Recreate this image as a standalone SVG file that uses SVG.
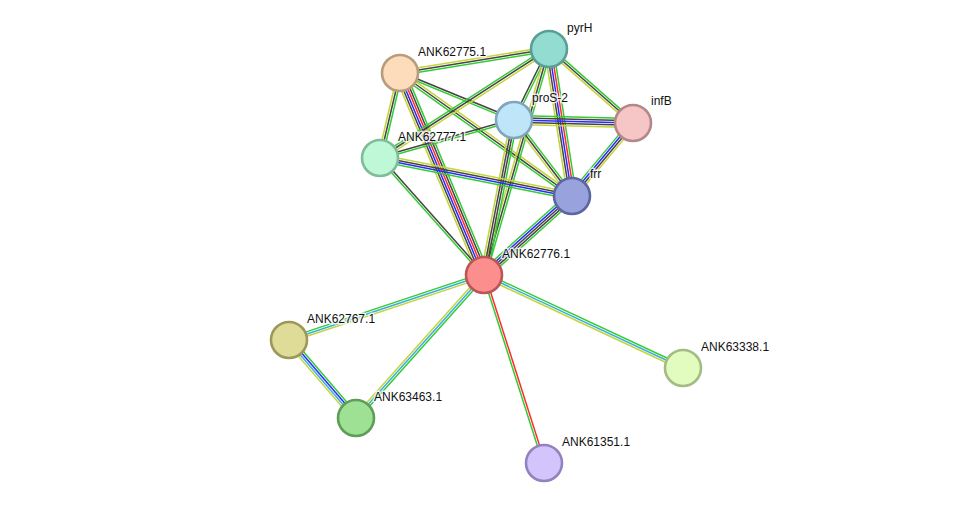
<svg xmlns="http://www.w3.org/2000/svg" width="976" height="509" viewBox="0 0 976 509">
<style>
line{stroke-width:1.5;fill:none}
.g{stroke:#33cc33}.k{stroke:#444444}.y{stroke:#c4d43a}.b{stroke:#2a2aff}.r{stroke:#ff2a2a}.c{stroke:#3aaee0}
circle{stroke-width:2.6}
text{font-family:"Liberation Sans",Arial,sans-serif;font-size:12px;fill:#111;stroke:#fff;stroke-width:3;stroke-opacity:0.8;paint-order:stroke;stroke-linejoin:round}
</style>
<rect width="976" height="509" fill="#fff"/>
<g id="edges">
<g transform="translate(400,73) rotate(-9.15)"><line x1="0" x2="150.9" y1="-2.2" y2="-2.2" class="y"/><line x1="0" x2="150.9" y1="0" y2="0" class="k"/><line x1="0" x2="150.9" y1="2.2" y2="2.2" class="g"/></g>
<g transform="translate(400,73) rotate(22.4)"><line x1="0" x2="123.3" y1="-1.1" y2="-1.1" class="k"/><line x1="0" x2="123.3" y1="1.1" y2="1.1" class="g"/></g>
<g transform="translate(400,73) rotate(35.56)"><line x1="0" x2="211.5" y1="-2.2" y2="-2.2" class="y"/><line x1="0" x2="211.5" y1="0" y2="0" class="k"/><line x1="0" x2="211.5" y1="2.2" y2="2.2" class="g"/></g>
<g transform="translate(400,73) rotate(103.24)"><line x1="0" x2="87.3" y1="-2.2" y2="-2.2" class="g"/><line x1="0" x2="87.3" y1="0" y2="0" class="k"/><line x1="0" x2="87.3" y1="2.2" y2="2.2" class="y"/></g>
<g transform="translate(400,73) rotate(67.42)"><line x1="0" x2="218.8" y1="-5.5" y2="-5.5" class="g"/><line x1="0" x2="218.8" y1="-3.3" y2="-3.3" class="k"/><line x1="0" x2="218.8" y1="-1.1" y2="-1.1" class="r"/><line x1="0" x2="218.8" y1="1.1" y2="1.1" class="b"/><line x1="0" x2="218.8" y1="3.3" y2="3.3" class="k"/><line x1="0" x2="218.8" y1="5.5" y2="5.5" class="y"/></g>
<g transform="translate(549,49) rotate(41.38)"><line x1="0" x2="111.9" y1="-2.2" y2="-2.2" class="g"/><line x1="0" x2="111.9" y1="0" y2="0" class="k"/><line x1="0" x2="111.9" y1="2.2" y2="2.2" class="y"/></g>
<g transform="translate(549,49) rotate(116.24)"><line x1="0" x2="79.2" y1="-1.1" y2="-1.1" class="g"/><line x1="0" x2="79.2" y1="1.1" y2="1.1" class="k"/></g>
<g transform="translate(549,49) rotate(147.18)"><line x1="0" x2="201.1" y1="-2.2" y2="-2.2" class="y"/><line x1="0" x2="201.1" y1="0" y2="0" class="k"/><line x1="0" x2="201.1" y1="2.2" y2="2.2" class="g"/></g>
<g transform="translate(549,49) rotate(106.05)"><line x1="0" x2="235.2" y1="-2.2" y2="-2.2" class="g"/><line x1="0" x2="235.2" y1="0" y2="0" class="k"/><line x1="0" x2="235.2" y1="2.2" y2="2.2" class="y"/></g>
<g transform="translate(549,49) rotate(81.11)"><line x1="0" x2="148.8" y1="-4.4" y2="-4.4" class="g"/><line x1="0" x2="148.8" y1="-2.2" y2="-2.2" class="r"/><line x1="0" x2="148.8" y1="0" y2="0" class="b"/><line x1="0" x2="148.8" y1="2.2" y2="2.2" class="k"/><line x1="0" x2="148.8" y1="4.4" y2="4.4" class="y"/></g>
<g transform="translate(514,120) rotate(1.44)"><line x1="0" x2="119" y1="-4.4" y2="-4.4" class="g"/><line x1="0" x2="119" y1="-2.2" y2="-2.2" class="k"/><line x1="0" x2="119" y1="0" y2="0" class="b"/><line x1="0" x2="119" y1="2.2" y2="2.2" class="k"/><line x1="0" x2="119" y1="4.4" y2="4.4" class="y"/></g>
<g transform="translate(514,120) rotate(164.17)"><line x1="0" x2="139.3" y1="-1.1" y2="-1.1" class="g"/><line x1="0" x2="139.3" y1="1.1" y2="1.1" class="k"/></g>
<g transform="translate(514,120) rotate(52.65)"><line x1="0" x2="95.6" y1="-2.2" y2="-2.2" class="g"/><line x1="0" x2="95.6" y1="0" y2="0" class="k"/><line x1="0" x2="95.6" y1="2.2" y2="2.2" class="y"/></g>
<g transform="translate(514,120) rotate(100.95)"><line x1="0" x2="157.9" y1="-3.3" y2="-3.3" class="g"/><line x1="0" x2="157.9" y1="-1.1" y2="-1.1" class="k"/><line x1="0" x2="157.9" y1="1.1" y2="1.1" class="k"/><line x1="0" x2="157.9" y1="3.3" y2="3.3" class="y"/></g>
<g transform="translate(633,123) rotate(129.88)"><line x1="0" x2="95.1" y1="-3.3" y2="-3.3" class="y"/><line x1="0" x2="95.1" y1="-1.1" y2="-1.1" class="k"/><line x1="0" x2="95.1" y1="1.1" y2="1.1" class="b"/><line x1="0" x2="95.1" y1="3.3" y2="3.3" class="g"/></g>
<g transform="translate(380,158) rotate(11.19)"><line x1="0" x2="195.7" y1="-3.3" y2="-3.3" class="y"/><line x1="0" x2="195.7" y1="-1.1" y2="-1.1" class="k"/><line x1="0" x2="195.7" y1="1.1" y2="1.1" class="b"/><line x1="0" x2="195.7" y1="3.3" y2="3.3" class="g"/></g>
<g transform="translate(380,158) rotate(48.37)"><line x1="0" x2="156.5" y1="-1.1" y2="-1.1" class="k"/><line x1="0" x2="156.5" y1="1.1" y2="1.1" class="g"/></g>
<g transform="translate(572,196) rotate(138.08)"><line x1="0" x2="118.3" y1="-4.4" y2="-4.4" class="g"/><line x1="0" x2="118.3" y1="-2.2" y2="-2.2" class="k"/><line x1="0" x2="118.3" y1="0" y2="0" class="k"/><line x1="0" x2="118.3" y1="2.2" y2="2.2" class="b"/><line x1="0" x2="118.3" y1="4.4" y2="4.4" class="g"/></g>
<g transform="translate(484,275) rotate(161.57)"><line x1="0" x2="205.5" y1="-2.2" y2="-2.2" class="y"/><line x1="0" x2="205.5" y1="0" y2="0" class="c"/><line x1="0" x2="205.5" y1="2.2" y2="2.2" class="g"/></g>
<g transform="translate(484,275) rotate(131.83)"><line x1="0" x2="191.9" y1="-2.2" y2="-2.2" class="g"/><line x1="0" x2="191.9" y1="0" y2="0" class="c"/><line x1="0" x2="191.9" y1="2.2" y2="2.2" class="y"/></g>
<g transform="translate(289,340) rotate(49.34)"><line x1="0" x2="102.8" y1="-3.3" y2="-3.3" class="g"/><line x1="0" x2="102.8" y1="-1.1" y2="-1.1" class="b"/><line x1="0" x2="102.8" y1="1.1" y2="1.1" class="c"/><line x1="0" x2="102.8" y1="3.3" y2="3.3" class="y"/></g>
<g transform="translate(484,275) rotate(25.05)"><line x1="0" x2="219.7" y1="-2.2" y2="-2.2" class="g"/><line x1="0" x2="219.7" y1="0" y2="0" class="c"/><line x1="0" x2="219.7" y1="2.2" y2="2.2" class="y"/></g>
<g transform="translate(484,275) rotate(72.3)"><line x1="0" x2="197.3" y1="-1.1" y2="-1.1" class="r"/><line x1="0" x2="197.3" y1="1.1" y2="1.1" class="g"/></g>
</g>
<g id="node-pyrH"><circle cx="549" cy="49" r="18" fill="#92dcd2" stroke="#5a9e94"/><text x="567" y="32">pyrH</text></g>
<g id="node-ANK62775.1"><circle cx="400" cy="73" r="18" fill="#fddcbc" stroke="#b99c7c"/><text x="418" y="56">ANK62775.1</text></g>
<g id="node-proS-2"><circle cx="514" cy="120" r="18" fill="#bfe6f8" stroke="#80a6be"/><text x="532" y="102">proS-2</text></g>
<g id="node-infB"><circle cx="633" cy="123" r="18" fill="#f6c6c6" stroke="#b48888"/><text x="651" y="105">infB</text></g>
<g id="node-ANK62777.1"><circle cx="380" cy="158" r="18" fill="#bff8d6" stroke="#7fbc9a"/><text x="398" y="141">ANK62777.1</text></g>
<g id="node-frr"><circle cx="572" cy="196" r="18" fill="#98a2dc" stroke="#5c66a0"/><text x="590" y="178">frr</text></g>
<g id="node-ANK62776.1"><circle cx="484" cy="275" r="18" fill="#fd8e8e" stroke="#bc5656"/><text x="502" y="258">ANK62776.1</text></g>
<g id="node-ANK62767.1"><circle cx="289" cy="340" r="18" fill="#dfdc98" stroke="#9c985c"/><text x="307" y="323">ANK62767.1</text></g>
<g id="node-ANK63463.1"><circle cx="356" cy="418" r="18" fill="#9ee094" stroke="#5e9e58"/><text x="374" y="401">ANK63463.1</text></g>
<g id="node-ANK63338.1"><circle cx="683" cy="368" r="18" fill="#e2fcc0" stroke="#a2bc82"/><text x="701" y="351">ANK63338.1</text></g>
<g id="node-ANK61351.1"><circle cx="544" cy="463" r="18" fill="#d4c4fc" stroke="#9482c0"/><text x="562" y="446">ANK61351.1</text></g>
</svg>
